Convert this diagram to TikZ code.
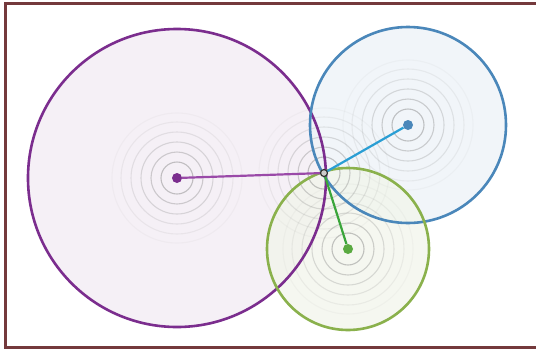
\documentclass[tikz,border=0pt]{standalone}
\begin{document}
\begin{tikzpicture}[x=1pt,y=-1pt,
  ring/.style={draw=black!50,line width=1.1pt},
  centerdot/.style={circle,inner sep=0pt,minimum size=10pt},
  link/.style={line width=2.2pt},
  bigcirc/.style={line width=2.6pt}]
\definecolor{purp}{HTML}{7B2D8E}
\definecolor{purpfill}{HTML}{F5F0F6}
\definecolor{purpline}{HTML}{9A4AA8}
\definecolor{blu}{HTML}{4A87BA}
\definecolor{blufill}{HTML}{EEF3F8}
\definecolor{bluline}{HTML}{2A9ED4}
\definecolor{grn}{HTML}{8AB14C}
\definecolor{grnfill}{HTML}{F2F5EB}
\definecolor{grnline}{HTML}{3AA53A}
\definecolor{frame}{HTML}{74393C}
\useasboundingbox (0,0) rectangle (536,349);
\fill[white] (0,0) rectangle (536,349);
% fills
\fill[purpfill] (177,178) circle (149);
\fill[blufill,opacity=0.8] (408,125) circle (98);
\fill[grnfill,opacity=0.75] (348,249) circle (81);
% rings
\foreach \c in {(177,178),(408,125),(348,249),(324,173)}{
  \foreach \r/\o in {16/0.45,26/0.35,36/0.26,46/0.17,56/0.1,65/0.05}{
    \draw[ring,opacity=\o] \c circle (\r);
  }
}
% circles outlines
\draw[bigcirc,purp] (177,178) circle (149);
\draw[bigcirc,blu] (408,125) circle (98);
\draw[bigcirc,grn] (348,249) circle (81);
% nodes
\node[centerdot,fill=purp] (P) at (177,178) {};
\node[centerdot,fill=blu] (B) at (408,125) {};
\node[centerdot,fill=grnline!60!grn] (G) at (348,249) {};
\coordinate (X) at (324,173);
\draw[link,purpline] (P) -- (X);
\draw[link,bluline] (X) -- (B);
\draw[link,grnline] (X) -- (G);
\node[circle,draw=black!80,fill=white!60!gray,line width=1.2pt,inner sep=0pt,minimum size=7pt] (XD) at (X) {};
% frame
\draw[frame,line width=3pt] (545,3) -- (5.5,3) -- (5.5,347) -- (545,347);
\end{tikzpicture}
\end{document}
